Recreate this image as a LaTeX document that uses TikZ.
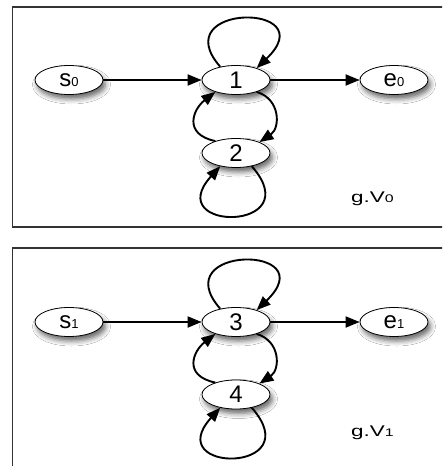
\documentclass[tikz,border=0pt]{standalone}
\usepackage{fontspec}
\setmainfont{Liberation Sans}
\usetikzlibrary{arrows.meta,shapes.geometric,shadows.blur}

\tikzset{
  stnode/.style={ellipse, draw=black, line width=0.8pt, fill=white,
    minimum width=68pt, minimum height=29pt, inner sep=0pt,
    font=\fontsize{24}{24}\selectfont,
    blur shadow={shadow xshift=2.5pt, shadow yshift=-4.5pt,
      shadow blur radius=5pt, shadow opacity=60}},
  flow/.style={draw=black, line width=1.9pt,
    -{Triangle[length=14pt,width=11pt]}},
  panel/.style={draw=black!80, line width=1.1pt},
  paneltag/.style={anchor=base west, inner sep=0pt,
    font=\fontsize{15.5}{15.5}\selectfont},
}
\newcommand\nsub[1]{{\fontsize{13}{13}\selectfont #1}}
\newcommand\tsub[1]{{\fontsize{11}{11}\selectfont #1}}

\begin{document}
\begin{tikzpicture}[x=1pt,y=1pt]
\useasboundingbox (0,0) rectangle (442,-466);
\clip (0,0) rectangle (442,-466);
\fill[white] (0,0) rectangle (442,-466);

% ---- graph V0 ----
\draw[panel] (12.5,-7) rectangle (460,-227);
\node[stnode] (s0) at (69,-80) {s\nsub{0}};
\node[stnode] (n1) at (236,-80) {1};
\node[stnode] (e0) at (394,-80) {e\nsub{0}};
\node[stnode] (n2) at (236,-153) {2};
\node[paneltag] (t0) at (351,-202) {\scalebox{1.45}[1]{g.V\tsub{0}}};

\draw[flow] (s0) -- (n1);
\draw[flow] (n1) -- (e0);
\draw[flow] (n1.140) .. controls +(-56,64) and +(69,66) .. (n1.30);
\draw[flow] (n1.-30) .. controls +(24,-7) and +(21,14) .. (n2.25);
\draw[flow] (n2.150) .. controls +(-33,7) and +(-22,-17) .. (n1.-150);
\draw[flow] (n2.-40) .. controls +(58,-66) and +(-60,-66) .. (n2.-140);

% ---- graph V1 ----
\begin{scope}[yshift=-241pt]
\draw[panel] (12.5,-7) rectangle (460,-260);
\node[stnode] (s1) at (69,-81) {s\nsub{1}};
\node[stnode] (n3) at (236,-81) {3};
\node[stnode] (e1) at (394,-81) {e\nsub{1}};
\node[stnode] (n4) at (236,-153.5) {4};
\node[paneltag] (t1) at (351,-195) {\scalebox{1.45}[1]{g.V\tsub{1}}};

\draw[flow] (s1) -- (n3);
\draw[flow] (n3) -- (e1);
\draw[flow] (n3.140) .. controls +(-56,64) and +(69,66) .. (n3.30);
\draw[flow] (n3.-30) .. controls +(24,-7) and +(21,14) .. (n4.25);
\draw[flow] (n4.150) .. controls +(-33,7) and +(-22,-17) .. (n3.-150);
\draw[flow] (n4.-40) .. controls +(58,-66) and +(-60,-66) .. (n4.-140);
\end{scope}
\end{tikzpicture}
\end{document}
